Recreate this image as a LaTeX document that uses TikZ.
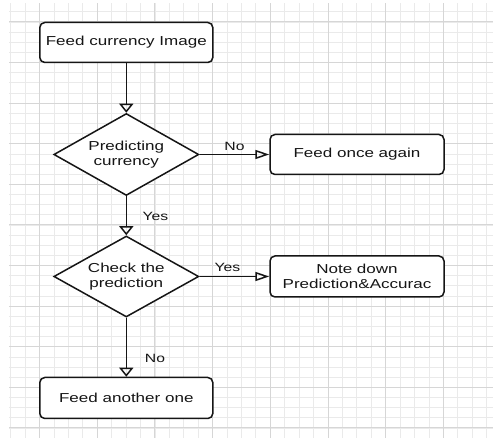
\documentclass[tikz,border=0pt]{standalone}
\usepackage{fontspec}
\setmainfont{Liberation Sans}[FakeStretch=1.31]
\usetikzlibrary{shapes.geometric,arrows.meta}
\definecolor{gminor}{HTML}{EAEAEA}
\definecolor{gmajor}{HTML}{D6D6D6}
\definecolor{ink}{HTML}{151515}
\begin{document}
\begin{tikzpicture}[x=1pt,y=-1pt,
 procbox/.style={draw=ink,line width=1.5pt,rounded corners=5pt,fill=white,minimum width=173pt,minimum height=40pt,inner sep=0pt,font=\fontsize{13}{15}\selectfont,align=center,text=ink},
 decide/.style={draw=ink,line width=1.5pt,diamond,aspect=1.77,fill=white,minimum width=145pt,minimum height=82pt,inner sep=0pt,font=\fontsize{13}{15}\selectfont,align=center,text=ink},
 lbl/.style={font=\fontsize{12}{14}\selectfont,text=ink,inner sep=0pt},
 flow/.style={draw=ink,line width=1.5pt},
 vtip/.style={-{Triangle[open,length=9pt,width=14pt]}},
 htip/.style={-{Triangle[open,length=14pt,width=9pt]}},
 gridminor/.style={draw=gminor,line width=0.8pt},
 gridmajor/.style={draw=gmajor,line width=1pt}
]
\useasboundingbox[fill=white] (0,0) rectangle (493,438);
\begin{scope}
\clip (9,4) rectangle (493,438);
\foreach \k in {-2,...,31} \draw[gridminor] ({39.5+14.425*\k},0) -- ({39.5+14.425*\k},438);
\foreach \k in {-2,...,41} \draw[gridminor] (0,{22+10.15*\k}) -- (493,{22+10.15*\k});
\foreach \k in {0,...,7} \draw[gridmajor] ({39.5+57.7*\k},0) -- ({39.5+57.7*\k},438);
\foreach \k in {0,...,10} \draw[gridmajor] (0,{22+40.6*\k}) -- (493,{22+40.6*\k});
\end{scope}

\node[procbox] (feed) at (126.3,42.5) {Feed currency Image};
\node[decide] (pred) at (126.3,154.5) {Predicting\\currency};
\node[procbox,minimum width=174pt] (again) at (357,154.5) {Feed once again};
\node[decide,minimum height=81pt] (check) at (126.3,276.5) {Check the\\prediction};
\node[procbox,minimum width=174pt,minimum height=41pt] (note) at (357,276.5) {Note down\\Prediction\&Accurac};
\node[procbox,minimum height=41pt] (another) at (126.3,398) {Feed another one};

\draw[flow,vtip] (feed.south) -- (pred.north);
\draw[flow,htip] (pred.east) -- (again.west);
\draw[flow,vtip] (pred.south) -- (check.north);
\draw[flow,htip] (check.east) -- (note.west);
\draw[flow,vtip] (check.south) -- (another.north);

\node[lbl] (no1) at (234.5,146) {No};
\node[lbl] (yes1) at (155.5,216) {Yes};
\node[lbl] (yes2) at (227.5,267) {Yes};
\node[lbl] (no2) at (155,358) {No};
\end{tikzpicture}
\end{document}
